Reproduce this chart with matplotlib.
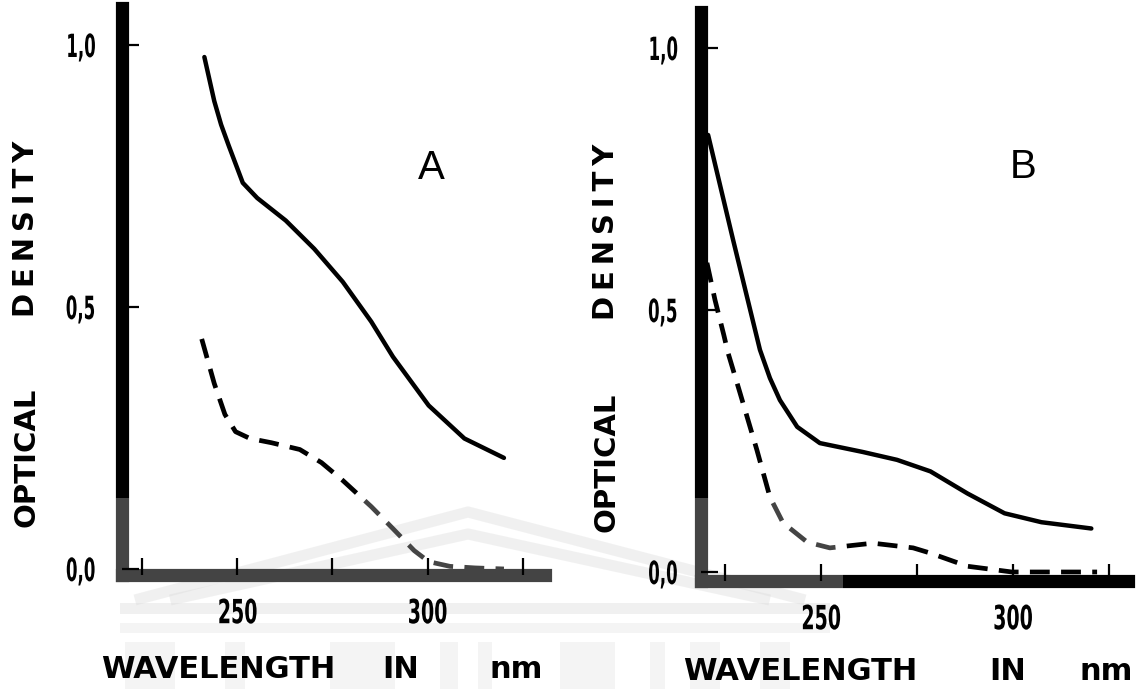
import numpy as np
import matplotlib
matplotlib.use("Agg")
import matplotlib.pyplot as plt
import matplotlib.patheffects as pe
from matplotlib.patches import Rectangle
from matplotlib.lines import Line2D
from matplotlib.transforms import Affine2D

# ---- data (wavelength nm, optical density) ----
a_solid_wl = [241.3, 243.9, 245.7, 247.7, 251.4, 255.2, 262.7, 270.2, 277.7, 285.2, 290.9, 300.3, 309.7, 320.1]
a_solid_od = [0.977, 0.893, 0.848, 0.808, 0.737, 0.708, 0.665, 0.611, 0.548, 0.472, 0.405, 0.312, 0.249, 0.212]

a_dash_wl = [240.6, 243.9, 246.7, 249.5, 253.3, 258.9, 266.4, 272.1, 277.7, 285.2, 290.9, 296.5, 300.3, 305.9, 312.5, 320.1]
a_dash_od = [0.439, 0.354, 0.295, 0.262, 0.249, 0.241, 0.228, 0.203, 0.169, 0.119, 0.077, 0.035, 0.014, 0.005, 0.002, 0.0]

b_solid_wl = [220.6, 227.1, 234.1, 236.7, 239.3, 243.8, 249.7, 260.9, 269.8, 278.5, 288.1, 297.8, 307.4, 320.4]
b_solid_od = [0.834, 0.634, 0.424, 0.370, 0.328, 0.277, 0.246, 0.229, 0.214, 0.192, 0.150, 0.112, 0.095, 0.083]

b_dash_wl = [220.3, 222.4, 224.7, 225.8, 228.9, 233.3, 236.7, 240.1, 246.4, 252.3, 263.5, 274.0, 278.5, 288.1, 299.7, 307.4, 321.9]
b_dash_od = [0.590, 0.519, 0.452, 0.418, 0.342, 0.233, 0.143, 0.094, 0.057, 0.046, 0.055, 0.046, 0.036, 0.011, 0.0, 0.0, 0.0]

xticks = [225, 250, 275, 300, 325]
xticklabels = ["", "250", "", "300", ""]
yticks = [0.0, 0.5, 1.0]
yticklabels = ["0,0", "0,5", "1,0"]

W, H = 1136, 689


class Squeeze(pe.AbstractPathEffect):
    # narrows a text sideways about its own centre (condensed look)
    def __init__(self, sx):
        super().__init__()
        self.sx = sx

    def draw_path(self, renderer, gc, tpath, affine, rgbFace=None):
        ext = tpath.get_extents()
        cx = (ext.x0 + ext.x1) / 2
        a = Affine2D().translate(-cx, 0).scale(self.sx, 1).translate(cx, 0) + affine
        renderer.draw_path(gc, tpath, a, rgbFace)


def box(x0, y0, x1, y1):
    # pixel box (y from top) -> figure fraction [left, bottom, width, height]
    return [x0 / W, 1 - y1 / H, (x1 - x0) / W, (y1 - y0) / H]


def fp(x, y):
    return (x / W, 1 - y / H)


fig = plt.figure(figsize=(W / 100, H / 100), dpi=100)
fig.patch.set_facecolor("white")

panels = [
    dict(rect=box(121.5, 8, 545, 575), xlim=(219.5, 330.9), ylim=(-0.0115, 1.0706),
         solid=(a_solid_wl, a_solid_od), dash=(a_dash_wl, a_dash_od), letter="A",
         letter_xy=(431, 168), ylab_x=26, opt_y=457, den_y=229, ypad=9,
         wl_x=101, in_x=382, nm_x=490, xlab_y=669, veil=(105, 640)),
    dict(rect=box(701, 12, 1128, 581), xlim=(218.75, 329.95), ylim=(-0.0172, 1.0687),
         solid=(b_solid_wl, b_solid_od), dash=(b_dash_wl, b_dash_od), letter="B",
         letter_xy=(1023, 167), ylab_x=606, opt_y=462, den_y=232, ypad=7,
         wl_x=683, in_x=989, nm_x=1080, xlab_y=671, veil=(640, 843)),
]

for p in panels:
    ax = fig.add_axes(p["rect"])
    ax.set_facecolor("none")
    ax.set_xlim(*p["xlim"])
    ax.set_ylim(*p["ylim"])
    ax.plot(*p["solid"], color="black", lw=3.2, solid_capstyle="round",
            solid_joinstyle="round", clip_on=False)
    ax.plot(*p["dash"], color="black", lw=3.4, dashes=(4.2, 2.4), clip_on=False)

    for side in ["top", "right"]:
        ax.spines[side].set_visible(False)
    for side in ["left", "bottom"]:
        ax.spines[side].set_linewidth(9.5)
        ax.spines[side].set_color("black")

    ax.set_xticks(xticks)
    xl = ax.set_xticklabels(xticklabels, fontsize=24, fontweight="bold")
    ax.set_yticks(yticks)
    yl = ax.set_yticklabels(yticklabels, fontsize=23, fontweight="bold")
    ax.tick_params(direction="in", length=12, width=1.6, color="black")
    ax.tick_params(axis="x", pad=16)
    ax.tick_params(axis="y", pad=p["ypad"])
    for lab in xl:
        lab.set_path_effects([Squeeze(0.57)])
    for lab in yl:
        lab.set_path_effects([Squeeze(0.52)])

    # watermark veil: greys the lower part of the axes lines, tick labels stay black
    v0, v1 = p["veil"]
    ax.add_patch(Rectangle(fp(v0, 689), (v1 - v0) / W, (689 - 498) / H,
                           transform=fig.transFigure, fc="white", ec="none", alpha=0.27,
                           zorder=2.6, clip_on=False))
    ax.xaxis.set_zorder(3)
    ax.yaxis.set_zorder(3)

    # panel letter
    fig.text(*fp(*p["letter_xy"]), p["letter"], fontsize=29, family="Liberation Sans",
             ha="center", va="center", zorder=12)
    # y label, two words spaced apart
    fig.text(*fp(p["ylab_x"], p["opt_y"]), "OPTICAL", rotation=90, fontsize=21,
             fontweight="bold", ha="center", va="center", zorder=12)
    fig.text(*fp(p["ylab_x"], p["den_y"]), "D\u2009E\u2009N\u2009S\u2009I\u2009T\u2009Y",
             rotation=90, fontsize=21, fontweight="bold", ha="center", va="center", zorder=12)
    # x label
    for key, word in [("wl_x", "WAVELENGTH"), ("in_x", "IN"), ("nm_x", "nm")]:
        fig.text(*fp(p[key], p["xlab_y"]), word, fontsize=22, fontweight="bold",
                 ha="left", va="center", zorder=12)

# faint building front of the watermark, kept underneath everything else
wm = "#cfcfcf"
for off in [0, 22]:
    xs = [135 + off * 1.6, 468, 805 - off * 1.6]
    ys = [600, 512 + off, 600]
    fig.add_artist(Line2D([x / W for x in xs], [1 - y / H for y in ys], transform=fig.transFigure,
                          color=wm, lw=8, alpha=0.4, zorder=-1, solid_capstyle="butt"))
for y0, y1, a in [(603, 614, 0.4), (623, 633, 0.3)]:
    fig.add_artist(Rectangle(fp(120, y1), (830 - 120) / W, (y1 - y0) / H,
                             transform=fig.transFigure, fc=wm, ec="none", alpha=a, zorder=-1))
for x0, x1 in [(125, 175), (225, 245), (330, 395), (440, 458), (478, 492), (560, 615),
               (650, 665), (690, 720), (760, 790)]:
    fig.add_artist(Rectangle(fp(x0, 689), (x1 - x0) / W, (689 - 642) / H,
                             transform=fig.transFigure, fc=wm, ec="none", alpha=0.3, zorder=-1))

fig.savefig("out.png", dpi=100)
